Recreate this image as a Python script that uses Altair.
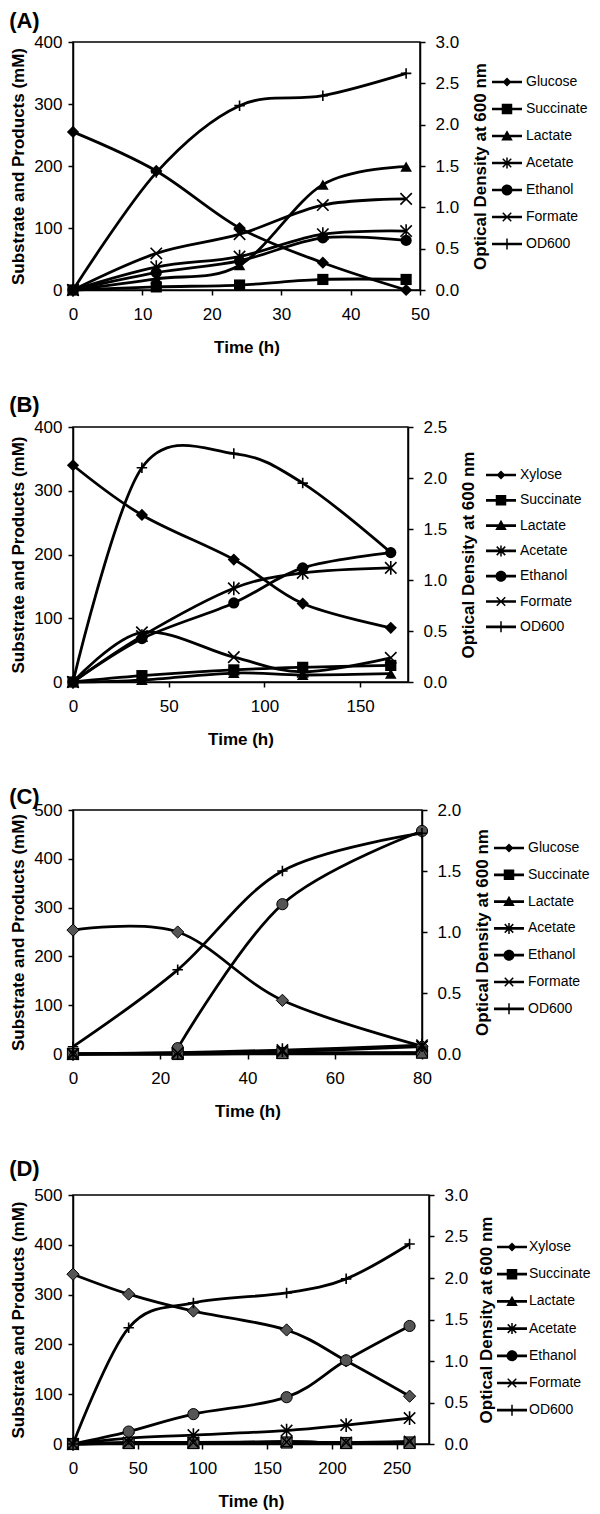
import altair as alt
import pandas as pd

FONT = "Liberation Sans"

PRODUCTS = ["Succinate", "Lactate", "Acetate", "Ethanol", "Formate"]

# ---- Panel A ----
A_TIME = [0, 12, 24, 36, 48]
A_SUGAR = "Glucose"
A_SUBSTRATE = [255, 192, 100, 44, 0]
A_SUCCINATE = [0, 5, 8, 17, 17]
A_LACTATE = [0, 18, 40, 170, 199]
A_ACETATE = [0, 37, 54, 90, 95]
A_ETHANOL = [0, 28, 47, 84, 80]
A_FORMATE = [0, 59, 90, 137, 147]
A_OD600 = [0.0, 1.42, 2.23, 2.35, 2.62]

# ---- Panel B ----
B_TIME = [0, 36, 84, 120, 166]
B_SUGAR = "Xylose"
B_SUBSTRATE = [340, 262, 192, 123, 85]
B_SUCCINATE = [0, 10, 19, 23, 26]
B_LACTATE = [0, 3, 14, 11, 13]
B_ACETATE = [0, 72, 147, 171, 179]
B_ETHANOL = [0, 68, 124, 179, 203]
B_FORMATE = [0, 78, 39, 16, 38]
B_OD600 = [0.0, 2.1, 2.24, 1.95, 1.27]

# ---- Panel C ----
C_TIME = [0, 24, 48, 80]
C_SUGAR = "Glucose"
C_SUBSTRATE = [254, 250, 110, 16]
C_SUCCINATE = [0, 0, 2, 3]
C_LACTATE = [0, 0, 1, 2]
C_ACETATE = [0, 3, 8, 18]
C_ETHANOL = [None, 12, 307, 457]
C_FORMATE = [0, 2, 5, 15]
C_OD600 = [0.06, 0.69, 1.5, 1.81]

# ---- Panel D ----
D_TIME = [0, 43, 93, 165, 211, 260]
D_SUGAR = "Xylose"
D_SUBSTRATE = [341, 301, 267, 229, 167, 96]
D_SUCCINATE = [0, 2, 2, 3, 2, 3]
D_LACTATE = [0, 1, 1, 5, 1, 1]
D_ACETATE = [0, 12, 18, 27, 38, 52]
D_ETHANOL = [0, 25, 60, 94, 168, 237]
D_FORMATE = [0, 3, 3, 4, 3, 5]
D_OD600 = [0.0, 1.4, 1.7, 1.82, 1.99, 2.41]


def poly(pts):
    n = len(pts)
    area = sum(pts[i][0] * pts[(i + 1) % n][1] - pts[(i + 1) % n][0] * pts[i][1]
               for i in range(n))
    if area > 0:
        pts = pts[::-1]
    return "M" + "L".join(f"{x:.3f},{y:.3f}" for x, y in pts) + "Z"


def seg(x1, y1, x2, y2, hw):
    dx, dy = x2 - x1, y2 - y1
    ln = (dx * dx + dy * dy) ** 0.5
    nx, ny = -dy / ln * hw, dx / ln * hw
    return poly([(x1 + nx, y1 + ny), (x2 + nx, y2 + ny), (x2 - nx, y2 - ny), (x1 - nx, y1 - ny)])


# plot marker paths (stroked)
ASTER = "M-1,-1L1,1M-1,1L1,-1M0,-1.2L0,1.2"
XMARK = "M-1,-1L1,1M-1,1L1,-1"
PLUS = "M-1,0L1,0M0,-1L0,1"

# plot marker styles: (shape, size, filled)
MARKERS = [
    ("diamond", 150, True),
    ("square", 125, True),
    ("triangle-up", 135, True),
    (ASTER, 130, False),
    ("circle", 125, True),
    (XMARK, 130, False),
]
OD_MARKER = (PLUS, 110, False)

# legend symbols: filled outlines only (line segment + marker)
LINE = seg(-3, 0, 3, 0, 0.27)
THIN = 0.15
LEGEND_PATHS = [
    LINE + poly([(0, -0.9), (0.9, 0), (0, 0.9), (-0.9, 0)]),
    LINE + poly([(-1.05, -1.05), (1.05, -1.05), (1.05, 1.05), (-1.05, 1.05)]),
    LINE + poly([(0, -1.15), (1.15, 0.9), (-1.15, 0.9)]),
    LINE + seg(-0.85, -0.85, 0.85, 0.85, THIN) + seg(-0.85, 0.85, 0.85, -0.85, THIN)
    + seg(0, -1.1, 0, 1.1, THIN),
    LINE + "M-1.1,0A1.1,1.1,0,1,0,1.1,0A1.1,1.1,0,1,0,-1.1,0Z",
    LINE + seg(-0.85, -0.85, 0.85, 0.85, THIN) + seg(-0.85, 0.85, 0.85, -0.85, THIN),
    LINE + seg(0, -1.1, 0, 1.1, THIN),
]


def panel(label, sugar, times, series, od, xmax, xstep, ymax, odmax, w, h,
          gray, lx, ly, rowpad, toff, loff=12, rtp=14):
    names = [sugar] + PRODUCTS
    rows = []
    for name, vals in zip(names, series):
        for t, v in zip(times, vals):
            rows.append({"t": t, "series": name, "v": v})
    df = pd.DataFrame(rows)
    odf = pd.DataFrame({"t": times, "od": od, "series": "OD600"})

    x = alt.X("t:Q", scale=alt.Scale(domain=[0, xmax], nice=False),
              axis=alt.Axis(title="Time (h)", values=list(range(0, xmax + 1, xstep)),
                            labelFlush=False, grid=False))
    y = alt.Y("v:Q", scale=alt.Scale(domain=[0, ymax], nice=False),
              axis=alt.Axis(title="Substrate and Products (mM)",
                            values=list(range(0, ymax + 1, 100)), grid=False, orient="left"))
    yod = alt.Y("od:Q", scale=alt.Scale(domain=[0, odmax], nice=False),
                axis=alt.Axis(title="Optical Density at 600 nm",
                              values=[i * 0.5 for i in range(int(round(odmax / 0.5)) + 1)],
                              format=".1f", grid=False, orient="right", titlePadding=rtp))

    base = alt.Chart(df)
    lines = base.mark_line(interpolate="cardinal", color="black", strokeWidth=2.8).encode(
        x=x, y=y, detail="series:N")
    layers = [lines]
    for name, (shape, size, filled) in zip(names, MARKERS):
        if filled:
            if gray:
                mk = dict(shape=shape, size=size, filled=True, fill="#555555",
                          stroke="black", strokeWidth=1, opacity=1)
            else:
                mk = dict(shape=shape, size=size, filled=True, color="black", opacity=1)
        else:
            mk = dict(shape=shape, size=size, filled=False, stroke="black",
                      strokeWidth=1.6, opacity=1)
        layers.append(base.transform_filter(alt.datum.series == name)
                      .mark_point(**mk).encode(x=x, y=y))
    legend_layer = base.mark_point(filled=True, color="black", opacity=0).encode(
        x=x, y=y,
        shape=alt.Shape("series:N",
                        scale=alt.Scale(domain=names + ["OD600"], range=LEGEND_PATHS),
                        legend=alt.Legend(orient="none", legendX=lx, legendY=ly,
                                          direction="vertical", title=None,
                                          symbolSize=100, symbolStrokeWidth=0,
                                          symbolFillColor="black",
                                          symbolOpacity=1, labelFont=FONT, labelFontSize=14,
                                          labelColor="black", labelOffset=loff,
                                          symbolOffset=15, rowPadding=rowpad, padding=0,
                                          labelLimit=200)))
    layers.append(legend_layer)
    left = alt.layer(*layers)

    obase = alt.Chart(odf)
    odline = obase.mark_line(interpolate="cardinal", color="black", strokeWidth=2.8).encode(
        x=x, y=yod)
    odpts = obase.mark_point(shape=OD_MARKER[0], size=OD_MARKER[1], filled=False,
                             stroke="black", strokeWidth=1.6, opacity=1).encode(x=x, y=yod)
    right = alt.layer(odline, odpts)

    return alt.layer(left, right).resolve_scale(y="independent").properties(
        width=w, height=h,
        title=alt.TitleParams(text=label, anchor="start", frame="bounds", fontSize=22,
                              font=FONT, fontWeight="bold", color="black",
                              offset=toff))


pA = panel("(A)", A_SUGAR, A_TIME,
           [A_SUBSTRATE, A_SUCCINATE, A_LACTATE, A_ACETATE, A_ETHANOL, A_FORMATE], A_OD600,
           50, 10, 400, 3.0, 347, 248, False, 412, 33, 13, 0.5)
pB = panel("(B)", B_SUGAR, B_TIME,
           [B_SUBSTRATE, B_SUCCINATE, B_LACTATE, B_ACETATE, B_ETHANOL, B_FORMATE], B_OD600,
           175, 50, 400, 2.5, 335, 255, False, 406, 41, 11.3, 1.5)
pC = panel("(C)", C_SUGAR, C_TIME,
           [C_SUBSTRATE, C_SUCCINATE, C_LACTATE, C_ACETATE, C_ETHANOL, C_FORMATE], C_OD600,
           80, 20, 500, 2.0, 349, 244, True, 414, 31, 12.8, -7.5)
pD = panel("(D)", D_SUGAR, D_TIME,
           [D_SUBSTRATE, D_SUCCINATE, D_LACTATE, D_ACETATE, D_ETHANOL, D_FORMATE], D_OD600,
           275, 50, 500, 3.0, 356, 249, True, 417, 45, 13.2, 5.5, loff=10, rtp=10.5)

chart = (
    alt.vconcat(pA, pB, pC, pD, spacing=36)
    .resolve_scale(shape="independent")
    .resolve_legend(shape="independent")
    .properties(padding={"left": 0, "top": 0, "right": 0, "bottom": 5})
    .configure_axis(labelFont=FONT, labelFontSize=17, labelColor="black",
                    titleFont=FONT, titleFontSize=17, titleFontWeight="bold",
                    titleColor="black", domainColor="black", domainWidth=1.5,
                    tickColor="black", tickWidth=1.5, tickSize=5, grid=False,
                    labelOverlap=False)
    .configure_axisX(labelPadding=11, titlePadding=17)
    .configure_axisLeft(labelPadding=6, titlePadding=6.5)
    .configure_axisRight(labelPadding=10, titleAngle=270, titleBaseline="top")
    .configure_view(stroke="black", strokeWidth=1.5)
)

chart.save("out.html", embed_options={"renderer": "svg", "actions": False})
